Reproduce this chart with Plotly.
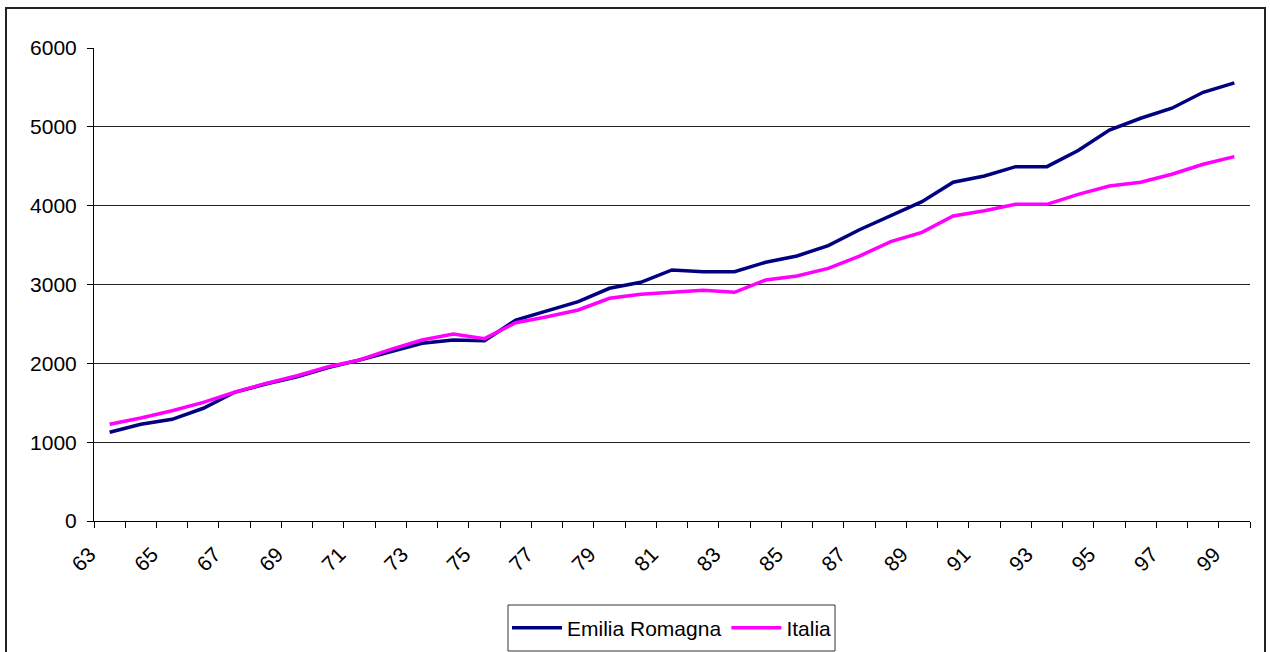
import plotly.graph_objects as go

years = [str(y) for y in range(63, 100)]
emilia_romagna = [1125, 1227, 1290, 1430, 1633, 1738, 1830, 1945, 2042, 2148, 2254, 2296, 2287,
                  2550, 2668, 2782, 2952, 3028, 3184, 3163, 3163, 3282, 3362, 3493, 3695,
                  3869, 4051, 4297, 4377, 4495, 4495, 4700, 4960, 5109, 5236, 5438, 5558]
italia = [1227, 1307, 1399, 1505, 1633, 1745, 1843, 1957, 2042, 2178, 2296, 2372, 2313,
          2516, 2592, 2677, 2825, 2876, 2901, 2927, 2901, 3057, 3108, 3205, 3360,
          3543, 3662, 3869, 3936, 4017, 4017, 4144, 4250, 4297, 4398, 4525, 4622]

xpos = list(range(len(years)))

fig = go.Figure()
fig.add_trace(go.Scatter(x=xpos, y=emilia_romagna, mode="lines", name="Emilia Romagna",
                         line=dict(color="#000080", width=3.5)))
fig.add_trace(go.Scatter(x=xpos, y=italia, mode="lines", name="Italia",
                         line=dict(color="#FF00FF", width=3.5)))

W, H = 1270, 652
L, R, T, B = 94, 20, 48, 131
pw, ph = W - L - R, H - T - B

def px_x(p):
    return (p - L) / pw

def px_y(p):
    return (H - B - p) / ph

fig.update_layout(
    width=W, height=H,
    margin=dict(l=L, r=R, t=T, b=B, autoexpand=False),
    paper_bgcolor="white", plot_bgcolor="white",
    font=dict(family="Liberation Sans, Arial, sans-serif", size=21, color="black"),
    showlegend=True,
    legend=dict(orientation="h", x=px_x(672), xanchor="center", y=px_y(628), yanchor="middle",
                borderwidth=0, bgcolor="rgba(0,0,0,0)",
                font=dict(size=21), itemwidth=50, tracegroupgap=0),
    xaxis=dict(
        range=[-0.5, len(years) - 0.5],
        tickmode="array",
        tickvals=xpos[::2], ticktext=years[::2],
        tickangle=-45, ticks="", showgrid=False, zeroline=False,
        showline=True, linecolor="black", linewidth=1,
        ticklabelstandoff=12, ticklabelshift=-20, automargin=False,
        minor=dict(tick0=-0.5, dtick=1, ticks="outside", ticklen=6,
                   tickcolor="black", showgrid=False),
    ),
    yaxis=dict(
        range=[0, 6000], dtick=1000, tick0=0,
        showgrid=True, gridcolor="#222222", gridwidth=1,
        zeroline=False, showline=True, linecolor="black", linewidth=1,
        ticks="outside", ticklen=6, tickcolor="black",
        ticklabelstandoff=6, automargin=False,
    ),
    shapes=[
        dict(type="rect", xref="paper", yref="paper",
             x0=px_x(6), x1=px_x(1265), y0=px_y(700), y1=px_y(8),
             line=dict(color="#222222", width=2), fillcolor="rgba(0,0,0,0)",
             layer="above"),
        dict(type="rect", xref="paper", yref="paper",
             x0=px_x(508), x1=px_x(835), y0=px_y(651), y1=px_y(605),
             line=dict(color="#333333", width=1), fillcolor="rgba(0,0,0,0)",
             layer="above"),
    ],
)

fig.write_html("out.html", config={"displayModeBar": False},
               post_script="document.body.style.margin='0px';document.body.style.overflow='hidden';")
